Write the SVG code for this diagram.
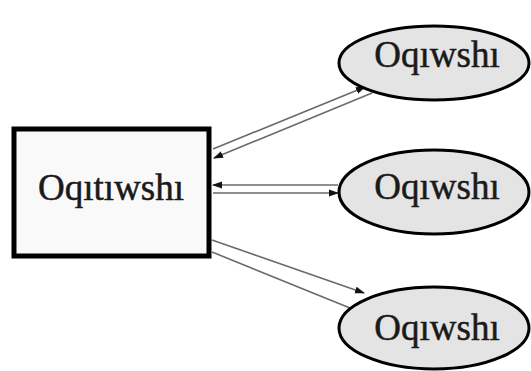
<svg xmlns="http://www.w3.org/2000/svg" width="531" height="371" viewBox="0 0 531 371">
<style>
.lbl{font-family:"Liberation Serif","Times New Roman",serif;font-size:37px;fill:#1a1a1a;stroke:#1a1a1a;stroke-width:0.5;text-anchor:middle}
.ell{fill:#e4e4e4;stroke:#000;stroke-width:3}
.box{fill:#f9f9f9;stroke:#000;stroke-width:5}
.con{fill:none;stroke:#6a6a6a;stroke-width:1.6}
.arr{marker-end:url(#ah)}
</style>
<defs>
<marker id="ah" markerWidth="10" markerHeight="8" refX="9" refY="4" orient="auto" markerUnits="userSpaceOnUse">
<path d="M0,0.5 L10,4 L0,7.5 Z" fill="#111"/>
</marker>
</defs>
<rect width="531" height="371" fill="#fff"/>
<g id="connectors">
<line class="con arr" x1="213" y1="149" x2="365" y2="87"/>
<line class="con arr" x1="372" y1="93" x2="214" y2="158"/>
<line class="con arr" x1="338" y1="185" x2="213" y2="185"/>
<line class="con arr" x1="213" y1="193" x2="338" y2="193"/>
<line class="con arr" x1="212" y1="240" x2="364" y2="293"/>
<line class="con" x1="212" y1="252" x2="350" y2="308"/>
</g>
<g id="teacher">
<rect class="box" x="14" y="129" width="195" height="127"/>
<text class="lbl" x="111" y="200">Oqıtıwshı</text>
</g>
<g id="student1">
<ellipse class="ell" cx="434" cy="63" rx="95" ry="37"/>
<text class="lbl" x="437" y="67">Oqıwshı</text>
</g>
<g id="student2">
<ellipse class="ell" cx="434" cy="192" rx="95" ry="42"/>
<text class="lbl" x="437" y="199">Oqıwshı</text>
</g>
<g id="student3">
<ellipse class="ell" cx="434" cy="328" rx="95" ry="41"/>
<text class="lbl" x="437" y="340">Oqıwshı</text>
</g>
</svg>
